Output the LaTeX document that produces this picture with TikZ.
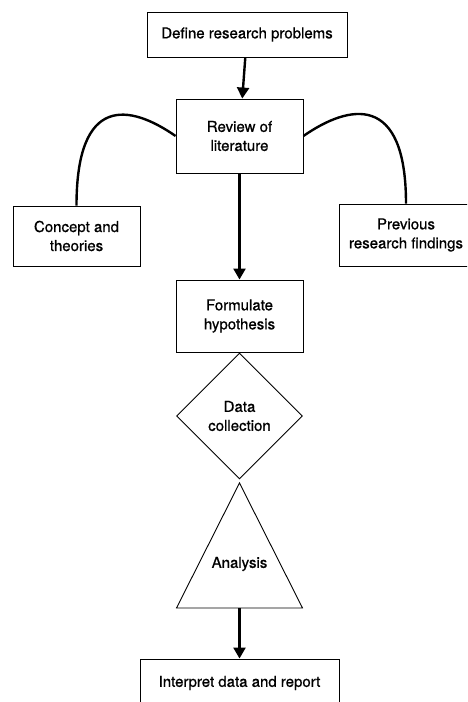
\documentclass[tikz,border=0pt]{standalone}
\usepackage{fontspec}
\setmainfont{TeX Gyre Heros}[FakeBold=0.8]
\usetikzlibrary{arrows.meta,shapes.geometric}
\begin{document}
\begin{tikzpicture}[x=1pt,y=1pt,
  box/.style={draw,line width=0.9pt,align=center,inner sep=0pt,font=\fontsize{15}{19}\selectfont},
  link/.style={line width=2.4pt},
  flow/.style={line width=2.4pt,-{Triangle[width=12pt,length=11pt]}}]
\path[use as bounding box,clip] (0,0) rectangle (467,702);
\node[box,minimum width=200pt,minimum height=45pt] (define) at (247,667.5) {Define research problems};
\node[box,minimum width=127pt,minimum height=74pt] (review) at (239.5,566) {Review of\\literature};
\node[box,minimum width=127pt,minimum height=60pt] (concept) at (76.5,466) {Concept and\\theories};
\node[box,minimum width=134pt,minimum height=62pt] (previous) at (406,467) {Previous\\research findings};
\node[box,minimum width=127pt,minimum height=72pt] (formulate) at (239.5,386) {Formulate\\hypothesis};
\node[box,diamond,minimum size=126pt] (data) at (239.5,286) {Data\\collection};
% triangle
\coordinate (apex) at (239.5,219);
\coordinate (tribase) at (239.5,94);
\draw[line width=0.9pt] (apex) -- (302.5,94) -- (176.5,94) -- cycle;
\node[font=\fontsize{15}{19}\selectfont] (analysis) at (239.5,138) {Analysis};
\node[box,minimum width=199pt,minimum height=48pt] (interpret) at (239.5,19) {Interpret data and report};
\draw[flow] (define) -- (review);
\draw[flow] (review) -- (formulate);
\draw[flow] (tribase) -- (interpret);
\draw[link] (review.west) .. controls +(-46,32) and +(0,111) .. (concept.north);
\draw[link] (review.east) .. controls +(46,32) and +(0,111) .. (previous.north);
\end{tikzpicture}
\end{document}
